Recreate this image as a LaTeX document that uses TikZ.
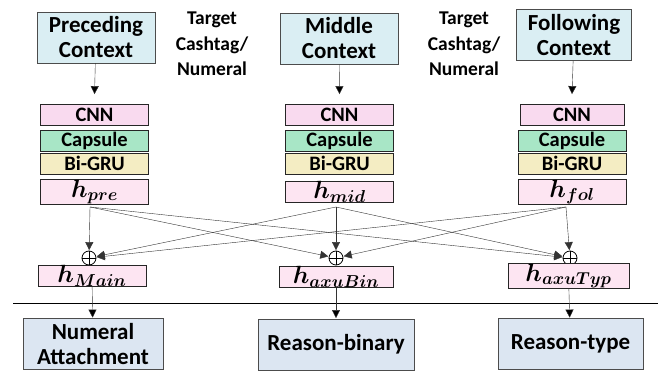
\documentclass[tikz,border=0pt]{standalone}
\usepackage{amsmath}
\usepackage{bm}
\usepackage{fontspec}
\setmainfont{Carlito}
\usetikzlibrary{arrows.meta}

\definecolor{ctxblue}{HTML}{DAEEF3}
\definecolor{taskblue}{HTML}{DCE6F2}
\definecolor{cnnpink}{HTML}{F9DAEF}
\definecolor{capgreen}{HTML}{A8E6C6}
\definecolor{gruyellow}{HTML}{F4EDC3}
\definecolor{hpink}{HTML}{FDE5F2}

\begin{document}
\begin{tikzpicture}[x=1pt,y=-1pt,->,>={Stealth[length=8pt,width=8pt,inset=0pt]},shorten >=0.5pt,
  ctx node/.style={draw=black!70,fill=ctxblue,thick,minimum width=118pt,minimum height=51pt,align=center,font=\bfseries\fontsize{23}{25}\selectfont},
  task node/.style={ctx node,fill=taskblue},
  layer node/.style={draw=black!85,thick,minimum width=108pt,minimum height=21pt,inner sep=0pt,font=\bfseries\fontsize{20.5}{20}\selectfont},
  h node/.style={layer node,fill=hpink,font=\fontsize{23}{20}\selectfont},
  tgt node/.style={align=center,font=\bfseries\fontsize{19.5}{25.5}\selectfont},
  plus node/.style={circle,draw=black,thick,minimum size=14pt,inner sep=0pt}]

  \useasboundingbox (0,0) rectangle (662,372);

  % inputs
  \node[ctx node] (pre) at (96,37.5) {Preceding\\Context};
  \node[ctx node] (mid) at (339,38.5) {Middle\\Context};
  \node[ctx node,minimum width=115pt] (fol) at (574,35) {Following\\Context};
  \node[tgt node] (tgt1) at (212,44) {Target\\Cashtag/\\Numeral};
  \node[tgt node] (tgt2) at (464,44) {Target\\Cashtag/\\Numeral};

  % encoders
  \node[layer node,fill=cnnpink] (cnn1) at (94.5,114.5) {CNN};
  \node[layer node,fill=capgreen] (cap1) at (94.5,140.5) {Capsule};
  \node[layer node,fill=gruyellow] (gru1) at (94.5,163.5) {Bi-GRU};
  \node[h node] (hpre) at (94.5,192) {$\bm{h}_{\bm{pre}}$};

  \node[layer node,fill=cnnpink] (cnn2) at (339.5,114.5) {CNN};
  \node[layer node,fill=capgreen] (cap2) at (339.5,140.5) {Capsule};
  \node[layer node,fill=gruyellow] (gru2) at (339.5,163.5) {Bi-GRU};
  \node[h node] (hmid) at (339.5,192) {$\bm{h}_{\bm{mid}}$};

  \node[layer node,fill=cnnpink,minimum width=104pt] (cnn3) at (572,114.5) {CNN};
  \node[layer node,fill=capgreen] (cap3) at (572,140.5) {Capsule};
  \node[layer node,fill=gruyellow] (gru3) at (572,163.5) {Bi-GRU};
  \node[h node] (hfol) at (572,192) {$\bm{h}_{\bm{fol}}$};

  \path[draw=black!80] (pre) edge ([yshift=9pt]cnn1.north)
        (mid) edge ([yshift=9pt]cnn2.north)
        (fol) edge ([yshift=9pt]cnn3.north);

  % fusion
  \coordinate (sp) at (90,207);
  \coordinate (sm) at (336,207);
  \coordinate (sf) at (566,207);
  \node[plus node] (add1) at (89,258) {};
  \node[plus node] (add2) at (336,258) {};
  \node[plus node] (add3) at (570,258) {};
  \foreach \a in {add1,add2,add3}
    \draw[-] (\a.north) -- (\a.south) (\a.west) -- (\a.east);

  \foreach \s in {sp,sm,sf}
    \foreach \t in {add1,add2,add3}
      \draw[black!80] (\s) -- (\t);

  \node[h node] (hmain) at (92,276) {$\bm{h}_{\bm{Main}}$};
  \node[h node,minimum width=114pt] (hbin) at (336,277) {$\bm{h}_{\bm{axuBin}}$};
  \node[h node,minimum width=121pt] (htyp) at (568.5,276) {$\bm{h}_{\bm{axuTyp}}$};

  % tasks
  \coordinate (sepl) at (13,303);
  \coordinate (sepr) at (658,303);
  \draw[-,thick] (sepl) -- (sepr);

  \node[task node,minimum width=140pt] (num) at (93,344) {Numeral\\Attachment};
  \node[task node,minimum width=156pt] (rbin) at (336,344.5) {Reason-binary};
  \node[task node,minimum width=145pt] (rtyp) at (570.5,344) {Reason-type};

  \path[draw=black!80] (hmain) edge (num)
        (hbin) edge (rbin)
        (htyp) edge (rtyp);

\end{tikzpicture}
\end{document}
